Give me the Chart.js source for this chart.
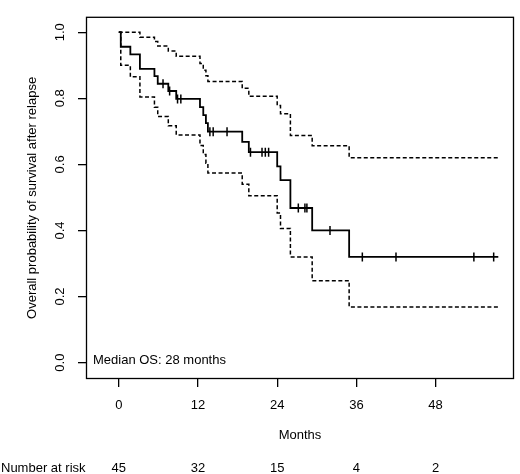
<!DOCTYPE html>
<html lang="en">
<head>
<meta charset="UTF-8">
<title>Overall survival after relapse</title>
<script src="https://cdn.jsdelivr.net/npm/chart.js@4.4.1/dist/chart.umd.min.js"></script>
<style>
  body { margin: 0; background: #fff; }
</style>
</head>
<body>
<canvas id="kmChart" width="520" height="474"></canvas>
<script>
// Kaplan-Meier estimate (value after each drop)
const survTime = [0, 0.3, 1.75, 3.2, 5.4, 5.9, 7.5, 8.7, 12.3, 12.8, 13.2, 13.5, 18.7, 19.7, 24.0, 24.5, 26.0, 29.3, 34.9, 57.5];
const survProb = [1.0, 0.956, 0.933, 0.889, 0.867, 0.844, 0.822, 0.798, 0.773, 0.749, 0.725, 0.699, 0.668, 0.637, 0.594, 0.552, 0.468, 0.400, 0.320, 0.320];
// 95% confidence band (dashed)
const upperCI = [1.0, 1.0, 1.0, 0.985, 0.972, 0.958, 0.943, 0.927, 0.905, 0.885, 0.868, 0.851, 0.830, 0.806, 0.778, 0.753, 0.687, 0.656, 0.620, 0.620];
const lowerCI = [1.0, 0.900, 0.865, 0.804, 0.773, 0.745, 0.717, 0.689, 0.657, 0.630, 0.603, 0.574, 0.540, 0.505, 0.453, 0.406, 0.320, 0.248, 0.168, 0.168];
// censored observations (tick marks)
const censorTime = [6.7, 7.7, 8.9, 9.4, 13.8, 14.3, 16.4, 19.95, 21.7, 22.2, 22.7, 27.2, 28.2, 28.5, 32.0, 36.9, 42.0, 53.8, 56.8];
const censorProb = [0.844, 0.822, 0.798, 0.798, 0.699, 0.699, 0.699, 0.637, 0.637, 0.637, 0.637, 0.468, 0.468, 0.468, 0.400, 0.320, 0.320, 0.320, 0.320];
// axes and risk table
const xTicks = [0, 12, 24, 36, 48];
const yTicks = [0.0, 0.2, 0.4, 0.6, 0.8, 1.0];
const riskTimes = [0, 12, 24, 36, 48];
const riskCounts = [45, 32, 15, 4, 2];

const FONT = '"Liberation Sans", Arial, Helvetica, sans-serif';
Chart.defaults.font.family = FONT;
Chart.defaults.font.size = 13;
Chart.defaults.color = '#000';

function pts(xs, ys) {
    return xs.map((x, i) => ({ x: x, y: ys[i] }));
}

// box round the plot, median text and number-at-risk row
const extras = {
    id: 'extras',
    afterDraw(chart) {
        const ctx = chart.ctx;
        const a = chart.chartArea;
        const xs = chart.scales.x;
        ctx.save();
        ctx.strokeStyle = '#000';
        ctx.lineWidth = 1.3;
        ctx.strokeRect(a.left + 0.5, a.top + 0.5, a.right - a.left - 1, a.bottom - a.top - 1);

        ctx.fillStyle = '#000';
        ctx.font = '13px ' + FONT;
        ctx.textBaseline = 'alphabetic';
        ctx.textAlign = 'left';
        ctx.fillText('Median OS: 28 months', a.left + 7, 364);

        ctx.fillText('Number at risk', 1, 471.5);
        ctx.textAlign = 'center';
        riskTimes.forEach((t, i) => {
            ctx.fillText(String(riskCounts[i]), xs.getPixelForValue(t), 471.5);
        });
        ctx.restore();
    }
};

const ctx = document.getElementById('kmChart').getContext('2d');
const kmChart = new Chart(ctx, {
    type: 'line',
    data: {
        datasets: [
            {
                label: 'Survival',
                data: pts(survTime, survProb),
                stepped: true,
                borderColor: '#000',
                borderWidth: 1.8,
                pointRadius: 0,
                fill: false
            },
            {
                label: 'Upper 95% CI',
                data: pts(survTime, upperCI),
                stepped: true,
                borderColor: '#000',
                borderWidth: 1.5,
                borderDash: [4, 2.5],
                pointRadius: 0,
                fill: false
            },
            {
                label: 'Lower 95% CI',
                data: pts(survTime, lowerCI),
                stepped: true,
                borderColor: '#000',
                borderWidth: 1.5,
                borderDash: [4, 2.5],
                pointRadius: 0,
                fill: false
            },
            {
                type: 'scatter',
                label: 'Censored',
                data: pts(censorTime, censorProb),
                showLine: false,
                pointStyle: 'line',
                rotation: 90,
                pointRadius: 4.5,
                pointBorderWidth: 1.5,
                pointBorderColor: '#000',
                pointHoverRadius: 4.5
            }
        ]
    },
    options: {
        responsive: false,
        animation: false,
        events: [],
        layout: { padding: { left: 0, right: 3, top: 3, bottom: 0 } },
        plugins: {
            legend: { display: false },
            tooltip: { enabled: false }
        },
        scales: {
            x: {
                type: 'linear',
                min: -4.97,
                max: 59.88,
                afterFit: s => { s.height = 95; },
                afterBuildTicks: s => { s.ticks = xTicks.map(v => ({ value: v })); },
                border: { display: false },
                grid: { drawOnChartArea: false, drawTicks: true, tickLength: 8, color: '#000', lineWidth: 1.3 },
                ticks: { padding: 11, maxRotation: 0, autoSkip: false },
                title: { display: true, text: 'Months', padding: { top: 0, bottom: 31 } }
            },
            y: {
                type: 'linear',
                min: -0.0496,
                max: 1.0466,
                afterFit: s => { s.width = 86; },
                afterBuildTicks: s => { s.ticks = yTicks.map(v => ({ value: v })); },
                border: { display: false },
                grid: { drawOnChartArea: false, drawTicks: true, tickLength: 8, color: '#000', lineWidth: 1.3 },
                ticks: {
                    minRotation: 90,
                    maxRotation: 90,
                    crossAlign: 'center',
                    padding: 9,
                    callback: v => v.toFixed(1)
                },
                title: { display: true, text: 'Overall probability of survival after relapse', padding: { top: 25, bottom: 0 } }
            }
        }
    },
    plugins: [extras]
});
</script>
</body>
</html>
